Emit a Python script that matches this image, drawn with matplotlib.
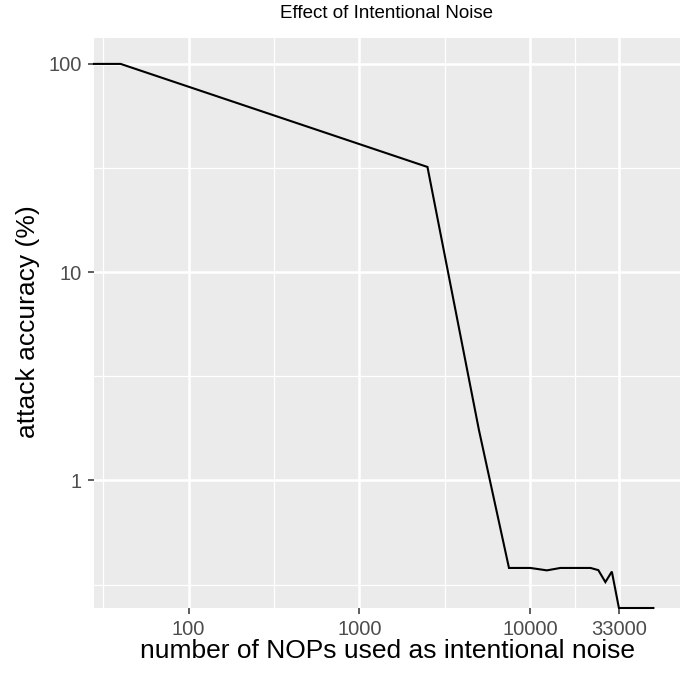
"""
Effect of intentional noise on attack accuracy (log-log line, ggplot look).

Outputs:
- out.png
"""

import matplotlib

matplotlib.use("Agg")
import matplotlib.pyplot as plt
import numpy as np

# number of NOPs inserted (0 sits at -Inf on a log axis, like ggplot)
nops = [0, 40, 2500, 5000, 7500, 10000, 12500, 15000, 17500, 20000,
        22500, 25000, 27500, 30000, 33000, 52500]
# attack accuracy in percent (0 sits at -Inf)
accuracy = [100, 100, 32, 1.75, 0.38, 0.38, 0.37, 0.38, 0.38, 0.38,
            0.38, 0.371, 0.325, 0.365, 0, 0]

x_breaks = [100, 1000, 10000, 33000]
x_labels = ["100", "1000", "10000", "33000"]
y_breaks = [1, 10, 100]
y_labels = ["1", "10", "100"]

title = "Effect of Intentional Noise"
x_title = "number of NOPs used as intentional noise"
y_title = "attack accuracy (%)"


def _log_limits(values, mult=0.05):
    v = np.asarray(values, dtype=float)
    v = np.log10(v[v > 0])
    lo, hi = v.min(), v.max()
    pad = (hi - lo) * mult
    return 10 ** (lo - pad), 10 ** (hi + pad)


def _minor(breaks, lims):
    lb = np.log10(breaks)
    mids = list((lb[:-1] + lb[1:]) / 2)
    step = lb[1] - lb[0]
    mids.insert(0, lb[0] - step / 2)
    lo, hi = np.log10(lims)
    return [10 ** m for m in mids if lo < m < hi]


def main() -> None:
    plt.rcParams["font.family"] = ["Liberation Sans", "DejaVu Sans"]

    xlim = _log_limits(nops)
    ylim = _log_limits(accuracy)

    # squish infinite values onto the panel edge, as ggplot does
    x = np.where(np.asarray(nops) > 0, nops, xlim[0])
    y = np.where(np.asarray(accuracy) > 0, accuracy, ylim[0])

    fig = plt.figure(figsize=(6.91, 6.73), dpi=100)
    ax = fig.add_axes([94 / 691, 1 - 608 / 673, 586 / 691, 570 / 673])
    ax.set_facecolor("#EBEBEB")

    ax.set_xscale("log")
    ax.set_yscale("log")
    ax.set_xlim(xlim)
    ax.set_ylim(ylim)

    for xm in _minor(x_breaks, xlim):
        ax.axvline(xm, color="white", lw=0.9, zorder=0.5)
    for ym in _minor(y_breaks, ylim):
        ax.axhline(ym, color="white", lw=0.9, zorder=0.5)
    for xb in x_breaks:
        ax.axvline(xb, color="white", lw=1.8, zorder=0.6)
    for yb in y_breaks:
        ax.axhline(yb, color="white", lw=1.8, zorder=0.6)

    ax.plot(x, y, color="black", lw=1.5, solid_joinstyle="miter",
            clip_on=False, zorder=2)

    ax.set_xticks(x_breaks)
    ax.set_xticklabels(x_labels)
    ax.set_yticks(y_breaks)
    ax.set_yticklabels(y_labels)
    ax.xaxis.set_minor_locator(matplotlib.ticker.NullLocator())
    ax.yaxis.set_minor_locator(matplotlib.ticker.NullLocator())
    ax.tick_params(axis="both", length=4.3, width=1.1, color="#333333",
                   labelcolor="#4D4D4D", labelsize=14.5)
    ax.tick_params(axis="x", pad=4)
    ax.tick_params(axis="y", pad=4.5)

    for spine in ax.spines.values():
        spine.set_visible(False)

    ax.set_xlabel(x_title, fontsize=19, color="black")
    ax.set_ylabel(y_title, fontsize=19, color="black")
    ax.xaxis.set_label_coords(0.5, -0.0754)
    ax.xaxis.label.set_va("center")
    ax.yaxis.set_label_coords(-0.112, 0.502)
    ax.yaxis.label.set_va("center")

    fig.text(387 / 691, 1 - 13 / 673, title, fontsize=13.5,
             ha="center", va="center", color="black")

    fig.savefig("out.png", dpi=100)
    plt.close(fig)


if __name__ == "__main__":
    main()
